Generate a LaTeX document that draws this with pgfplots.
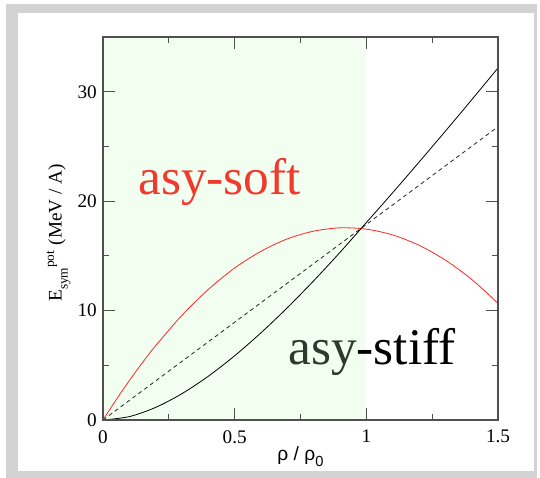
\documentclass[border=0pt]{standalone}
\usepackage{fontspec}
\setmainfont{Liberation Serif}
\newfontfamily\sansf{Liberation Sans}
\usepackage{pgfplots}
\pgfplotsset{compat=1.18}
\definecolor{framegray}{RGB}{211,211,211}
\definecolor{shade}{RGB}{241,254,240}
\definecolor{softred}{RGB}{240,58,45}
\definecolor{curvered}{RGB}{255,40,40}
\definecolor{axisgray}{RGB}{80,80,80}
\definecolor{stiffdark}{RGB}{45,58,45}
\begin{document}
\begin{tikzpicture}[x=0.75pt,y=0.75pt]
\useasboundingbox (0,0) rectangle (540,478);
\fill[white] (0,0) rectangle (540,478);
\fill[framegray] (6,0) rectangle (537,474);
\fill[white] (18,7) rectangle (534,465);
\begin{axis}[
  at={(77.25pt,43.5pt)}, anchor=south west,
  scale only axis, width=296.25pt, height=287.25pt,
  xmin=0, xmax=1.5, ymin=0, ymax=35,
  axis on top,
  axis line style={axisgray, line width=1pt},
  tick style={axisgray, line width=0.9pt},
  tick align=inside,
  major tick length=9pt, minor tick length=4.5pt,
  xtick={0,0.5,1,1.5}, xticklabels={0,0.5,1,1.5},
  ytick={0,10,20,30}, yticklabels={0,10,20,30},
  minor xtick={0.25,0.75,1.25}, minor ytick={5,15,25,35},
  ticklabel style={font=\fontsize{14.4}{14.4}\selectfont, inner sep=0pt},
  xticklabel style={anchor=north, yshift=-7.5pt},
  yticklabel style={anchor=east, xshift=-4.5pt},
  xlabel={{\sansf ρ / ρ\raisebox{-0.3em}{\fontsize{11}{11}\selectfont 0}}},
  xlabel style={at={(axis description cs:0.5,0)}, anchor=base, yshift=-30.75pt, inner sep=0pt, font=\fontsize{14.4}{14.4}\selectfont},
]
\addplot[draw=none, fill=shade] coordinates {(0,35) (1,35)} \closedcycle;
% asy-soft (red)
\addplot[curvered, line width=0.6pt, smooth, tension=0.5] coordinates {
(0,0) (0.05,1.85) (0.1,3.60) (0.15,5.25) (0.2,6.79) (0.3,9.57) (0.4,11.93) (0.5,13.89)
(0.6,15.42) (0.7,16.55) (0.8,17.26) (0.9,17.56) (1.0,17.44) (1.1,16.91)
(1.2,15.97) (1.3,14.61) (1.4,12.85) (1.5,10.66)};
% linear (dashed)
\addplot[black!85, line width=0.6pt, dash pattern=on 3pt off 2.5pt] coordinates {(0,0) (1.5,26.8)};
% asy-stiff (black)
\addplot[black, line width=0.6pt, smooth, tension=0.5] coordinates {
(0,0) (0.1,0.31) (0.2,1.15) (0.3,2.41) (0.4,4.0) (0.5,5.87) (0.6,7.97) (0.7,10.26)
(0.8,12.72) (0.9,15.32) (1.0,18.04) (1.1,20.77) (1.2,23.56) (1.3,26.39) (1.4,29.26) (1.5,32.17)};
\node[anchor=base west, inner sep=0pt, text=softred, font=\fontsize{38.5}{38.5}\selectfont] at (axis cs:0.133,20.57) {asy-soft};
\node[anchor=base west, inner sep=0pt, font=\fontsize{38.5}{38.5}\selectfont] at (axis cs:0.7026,5.03) {{\color{stiffdark}asy}-stiff};
\end{axis}
\node[rotate=90, anchor=base, inner sep=0pt, font=\fontsize{14.4}{14.4}\selectfont] at (61.5,245)
  {E\raisebox{-4.5pt}{\fontsize{10}{10}\selectfont sym}\raisebox{5.6pt}{\fontsize{10}{10}\selectfont pot}\hspace{4pt}(MeV / A)};
\end{tikzpicture}
\end{document}
